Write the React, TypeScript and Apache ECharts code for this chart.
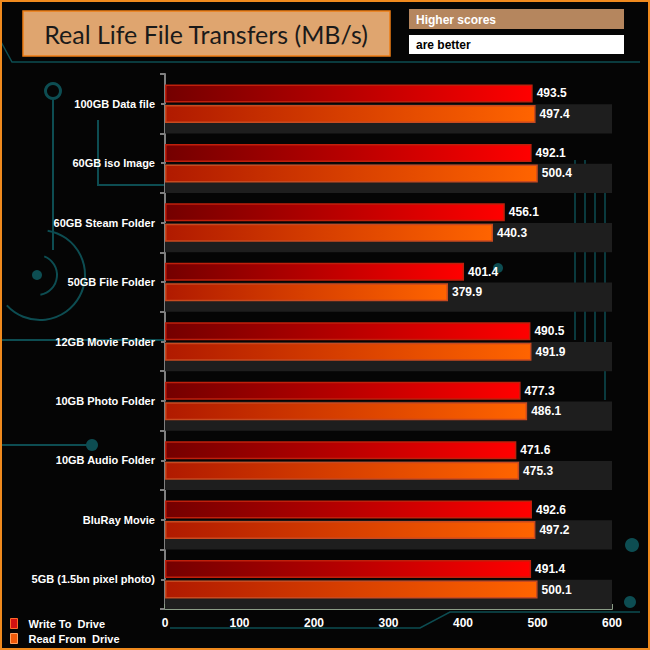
import * as echarts from 'echarts';
import React, { useEffect, useRef } from 'react';

const categories = [
  '100GB Data file',
  '60GB iso Image',
  '60GB Steam Folder',
  '50GB File Folder',
  '12GB Movie Folder',
  '10GB Photo Folder',
  '10GB Audio Folder',
  'BluRay Movie',
  '5GB (1.5bn pixel photo)',
];
const writeValues = [493.5, 492.1, 456.1, 401.4, 490.5, 477.3, 471.6, 492.6, 491.4];
const readValues = [497.4, 500.4, 440.3, 379.9, 491.9, 486.1, 475.3, 497.2, 500.1];
const seriesNames = ['Write To  Drive', 'Read From  Drive'];
const axisMax = 600;

const teal = '#0d4d52';

const App: React.FC = () => {
  const chartRef = useRef<HTMLDivElement>(null);

  useEffect(() => {
    if (!chartRef.current) return;
    const chart = echarts.init(chartRef.current, null, { renderer: 'svg' });

    const labelStyle = {
      show: true,
      position: 'right' as const,
      distance: 4,
      color: '#ffffff',
      fontFamily: 'Liberation Sans, Arial',
      fontWeight: 'bold' as const,
      fontSize: 12,
      formatter: (p: any) => p.value.toFixed(1),
    };

    const option: echarts.EChartsOption = {
      animation: false,
      backgroundColor: '#050505',
      grid: { left: 165, right: 38, top: 74, bottom: 41 },
      xAxis: {
        type: 'value',
        min: 0,
        max: axisMax,
        interval: 100,
        splitLine: { show: false },
        axisLine: { show: true, lineStyle: { color: '#8a9c86', width: 2 } },
        axisTick: { show: true, inside: true, length: 5, lineStyle: { color: '#8a9c86', width: 2 } },
        axisLabel: {
          color: '#ffffff',
          fontFamily: 'Liberation Sans, Arial',
          fontWeight: 'bold',
          fontSize: 12,
          margin: 8,
        },
      },
      yAxis: [
        {
          type: 'category',
          data: categories,
          inverse: true,
          axisLine: { show: true, lineStyle: { color: '#7f7f7f', width: 2 } },
          axisTick: { show: true, length: 5, lineStyle: { color: '#7f7f7f', width: 2 } },
          axisLabel: {
            color: '#ffffff',
            fontFamily: 'Liberation Sans, Arial',
            fontWeight: 'bold',
            fontSize: 11,
            margin: 10,
          },
        },
        {
          type: 'category',
          data: categories,
          inverse: true,
          position: 'left',
          axisLine: { show: false },
          axisTick: { show: true, alignWithLabel: true, length: 4, lineStyle: { color: '#7f7f7f', width: 2 } },
          axisLabel: { show: false },
        },
      ],
      legend: {
        orient: 'vertical',
        left: 5,
        top: 613,
        itemWidth: 7,
        itemHeight: 10,
        itemGap: 4,
        icon: 'rect',
        textStyle: {
          color: '#ffffff',
          fontFamily: 'Liberation Sans, Arial',
          fontWeight: 'bold',
          fontSize: 11,
          padding: [0, 0, 0, 6],
        },
        data: [
          { name: seriesNames[0], itemStyle: { color: '#d31212', borderColor: '#ff6a2a', borderWidth: 1 } },
          { name: seriesNames[1], itemStyle: { color: '#f05a0a', borderColor: '#ffa060', borderWidth: 1 } },
        ],
      },
      graphic: [
        // circuit-board decoration
        { type: 'ring', shape: { cx: 53, cy: 91, r: 9, r0: 6 }, style: { fill: teal }, z: -10 },
        { type: 'line', shape: { x1: 53, y1: 100, x2: 53, y2: 250 }, style: { stroke: teal, lineWidth: 2 }, z: -10 },
        { type: 'arc', shape: { cx: 40, cy: 275, r: 45, startAngle: -1.4, endAngle: 2.4 }, style: { stroke: teal, lineWidth: 2, fill: 'none' }, z: -10 },
        { type: 'arc', shape: { cx: 37, cy: 275, r: 20, startAngle: -1.2, endAngle: 1.4 }, style: { stroke: teal, lineWidth: 2, fill: 'none' }, z: -10 },
        { type: 'circle', shape: { cx: 37, cy: 275, r: 5 }, style: { fill: teal }, z: -10 },
        { type: 'line', shape: { x1: 0, y1: 340, x2: 165, y2: 340 }, style: { stroke: teal, lineWidth: 2 }, z: -10 },
        { type: 'polyline', shape: { points: [[0, 445], [92, 445]] }, style: { stroke: teal, lineWidth: 2 }, z: -10 },
        { type: 'circle', shape: { cx: 92, cy: 445, r: 6 }, style: { fill: teal }, z: -10 },
        { type: 'polyline', shape: { points: [[98, 120], [98, 185], [165, 185]] }, style: { stroke: teal, lineWidth: 2 }, z: -10 },
        { type: 'polyline', shape: { points: [[0, 40], [12, 62], [640, 62]] }, style: { stroke: teal, lineWidth: 1.5 }, z: -10 },
        { type: 'polyline', shape: { points: [[575, 160], [575, 340]] }, style: { stroke: teal, lineWidth: 1.5 }, z: -10 },
        { type: 'polyline', shape: { points: [[585, 160], [585, 350]] }, style: { stroke: teal, lineWidth: 1.5 }, z: -10 },
        { type: 'polyline', shape: { points: [[595, 165], [595, 360]] }, style: { stroke: teal, lineWidth: 1.5 }, z: -10 },
        { type: 'polyline', shape: { points: [[605, 170], [605, 400]] }, style: { stroke: teal, lineWidth: 1.5 }, z: -10 },
        { type: 'circle', shape: { cx: 632, cy: 545, r: 7 }, style: { fill: teal }, z: -10 },
        { type: 'circle', shape: { cx: 630, cy: 602, r: 6 }, style: { fill: teal }, z: -10 },
        { type: 'circle', shape: { cx: 498, cy: 268, r: 5 }, style: { fill: teal }, z: -10 },
        { type: 'polyline', shape: { points: [[170, 628], [420, 628], [450, 612], [640, 612]] }, style: { stroke: teal, lineWidth: 1.5 }, z: -10 },
        // outer frame
        {
          type: 'rect',
          shape: { x: 1, y: 1, width: 648, height: 648 },
          style: { fill: 'none', stroke: '#f08a1e', lineWidth: 2 },
          z: 100,
        },
        // title box
        {
          type: 'rect',
          shape: { x: 23, y: 11, width: 367, height: 45 },
          style: { fill: '#dfa56f', stroke: '#ee7d14', lineWidth: 1.5 },
        },
        {
          type: 'text',
          x: 206,
          y: 34,
          style: {
            text: 'Real Life File Transfers (MB/s)',
            fill: '#1a1a1a',
            font: '25px Lato, "Open Sans", sans-serif',
            align: 'center',
            verticalAlign: 'middle',
          },
        },
        {
          type: 'rect',
          shape: { x: 409, y: 9, width: 215, height: 20 },
          style: { fill: '#b5865e' },
        },
        {
          type: 'text',
          x: 416,
          y: 20,
          style: {
            text: 'Higher scores',
            fill: '#ffffff',
            font: 'bold 12px "Liberation Sans", Arial',
            verticalAlign: 'middle',
          },
        },
        {
          type: 'rect',
          shape: { x: 409, y: 35, width: 215, height: 19 },
          style: { fill: '#ffffff' },
        },
        {
          type: 'text',
          x: 416,
          y: 45,
          style: {
            text: 'are better',
            fill: '#000000',
            font: 'bold 12px "Liberation Sans", Arial',
            verticalAlign: 'middle',
          },
        },
      ],
      series: [
        {
          type: 'custom',
          name: 'stripe',
          z: 1,
          silent: true,
          encode: { x: 0, y: 1 },
          data: categories.map((c) => [axisMax, c]),
          renderItem: (params: any, api: any) => {
            const idx = api.value(1);
            const start = api.coord([0, idx]);
            const end = api.coord([api.value(0), idx]);
            const band = api.size([0, 1])[1];
            return {
              type: 'rect',
              shape: { x: start[0], y: start[1] + 0.5, width: end[0] - start[0], height: band / 2 - 0.5 },
              style: { fill: '#1e1e1e' },
            };
          },
        },
        {
          type: 'bar',
          name: seriesNames[0],
          data: writeValues,
          barWidth: 18,
          barGap: '14%',
          z: 3,
          itemStyle: {
            color: new echarts.graphic.LinearGradient(0, 0, 1, 0, [
              { offset: 0, color: '#740000' },
              { offset: 0.5, color: '#b80000' },
              { offset: 1, color: '#ff0000' },
            ]),
            borderColor: '#c0200c',
            borderWidth: 1.5,
          },
          label: labelStyle,
        },
        {
          type: 'bar',
          name: seriesNames[1],
          data: readValues,
          barWidth: 18,
          barGap: '14%',
          z: 3,
          itemStyle: {
            color: new echarts.graphic.LinearGradient(0, 0, 1, 0, [
              { offset: 0, color: '#b01a00' },
              { offset: 0.5, color: '#d84000' },
              { offset: 1, color: '#ff6400' },
            ]),
            borderColor: '#c84a20',
            borderWidth: 1.5,
          },
          label: labelStyle,
        },
      ],
    };

    chart.setOption(option);
    return () => {
      chart.dispose();
    };
  }, []);

  return (
    <div
      ref={chartRef}
      style={{ position: 'absolute', left: 0, top: 0, width: '650px', height: '650px' }}
    />
  );
};

export default App;
